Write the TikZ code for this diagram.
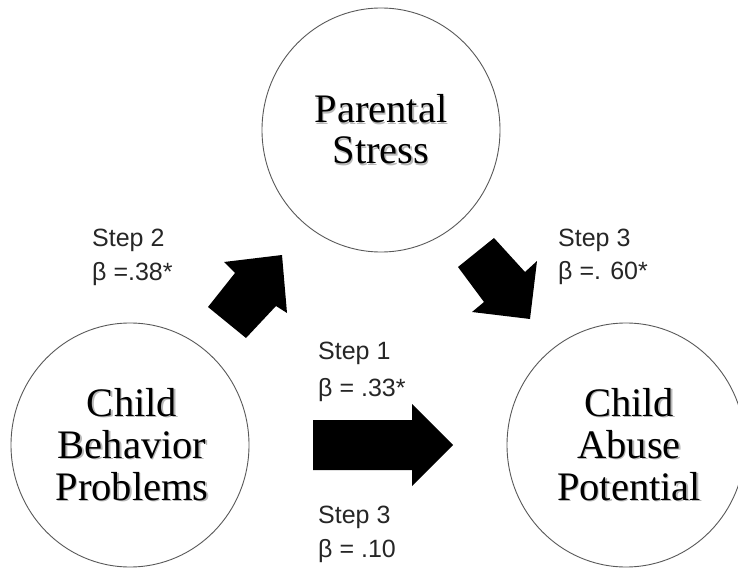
\documentclass[tikz,border=0pt]{standalone}
\usepackage{fontspec}
\setmainfont{Liberation Serif}
\newfontfamily\labelfont{Liberation Sans}
\usetikzlibrary{shapes.geometric}
\newcommand\serifline[3]{%
  \node[bigtext, text=black, opacity=0.28, xshift=1.3pt, yshift=-1.5pt] (#1sh) at (#2) {#3};
  \node[bigtext] (#1) at (#2) {#3};}
\begin{document}
\begin{tikzpicture}[x=1pt,y=-1pt,
  bubble/.style={draw=black!65, line width=0.9pt, ellipse, minimum width=238pt, minimum height=244pt, inner sep=0pt, outer sep=0pt},
  bigtext/.style={font=\fontsize{40.5}{42}\selectfont, anchor=base, inner sep=0pt},
  steplabel/.style={font=\labelfont\fontsize{25}{30}\selectfont, anchor=base west, inner sep=0pt, text=black!85},
  blockarrow/.style={fill=black}]
\useasboundingbox (0,0) rectangle (738,569);
\fill[white] (0,0) rectangle (738,569);
% circles
\node[bubble] (ps) at (381,130) {};
\node[bubble] (cbp) at (130,445) {};
\node[bubble] (cap) at (626,445) {};
% circle texts
\serifline{psA}{381,123}{Parental}
\serifline{psB}{381,164}{Stress}
\serifline{cbpA}{132,416}{Child}
\serifline{cbpB}{132,458}{Behavior}
\serifline{cbpC}{132,500}{Problems}
\serifline{capA}{629,416}{Child}
\serifline{capB}{629,458}{Abuse}
\serifline{capC}{629,500}{Potential}
% labels
\node[steplabel] (s2a) at (92,247) {Step 2};
\node[steplabel] (s2b) at (92,280) {β =.38*};
\node[steplabel] (s3a) at (558,247) {Step 3};
\node[steplabel] (s3b) at (558,279) {β =. 60*};
\node[steplabel] (s1a) at (318,359) {Step 1};
\node[steplabel] (s1b) at (318,396) {β = .33*};
\node[steplabel] (s3c) at (318,523) {Step 3};
\node[steplabel] (s3d) at (318,557) {β = .10};
% block arrows
\fill[blockarrow] (282,255) -- (287,313) -- (276,306) -- (246,338) -- (208,307) -- (235,273) -- (224,262) -- cycle;
\fill[blockarrow] (458,267) -- (494,238) -- (525,272) -- (537,261) -- (530,319) -- (472,312) -- (484,302) -- cycle;
\fill[blockarrow] (313,420) -- (412,420) -- (412,404) -- (453,445) -- (412,486) -- (412,470) -- (313,470) -- cycle;
\end{tikzpicture}
\end{document}
